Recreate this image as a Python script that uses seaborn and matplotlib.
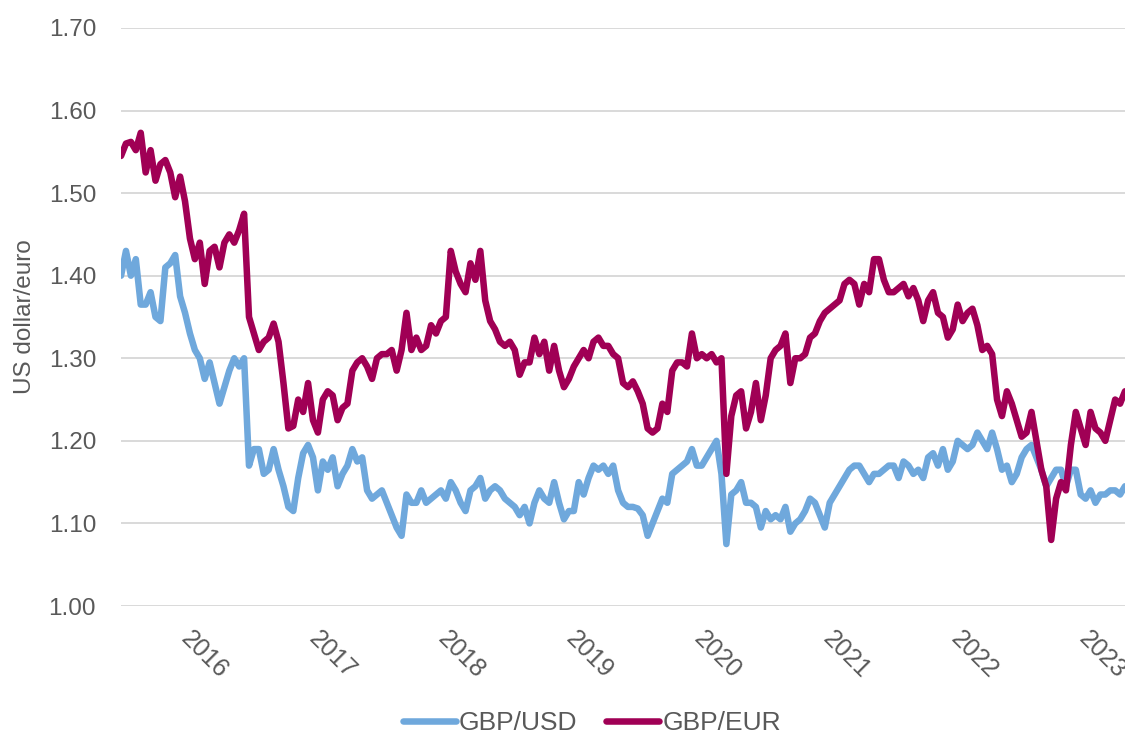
"""
plot.py

Sterling exchange rates, mid-2015 to spring 2023
------------------------------------------------

Two fortnightly series read off the reference chart and drawn with seaborn.
Output: out.png
"""

import matplotlib
matplotlib.use("Agg")

import matplotlib.pyplot as plt
import matplotlib.transforms as mtransforms
import pandas as pd
import seaborn as sns


# =============================================================================
# Data (fortnightly readings, starting 1 July 2015)
# =============================================================================

START_DATE = "2015-07-01"

gbp_usd = [
    1.400, 1.430, 1.400, 1.420, 1.365, 1.365, 1.380, 1.350, 1.345, 1.410,
    1.415, 1.425, 1.375, 1.355, 1.330, 1.310, 1.300, 1.275, 1.295, 1.270,
    1.245, 1.265, 1.285, 1.300, 1.290, 1.300, 1.170, 1.190, 1.190, 1.160,
    1.165, 1.190, 1.165, 1.145, 1.120, 1.115, 1.155, 1.185, 1.195, 1.180,
    1.140, 1.175, 1.165, 1.180, 1.145, 1.160, 1.170, 1.190, 1.175, 1.180,
    1.140, 1.130, 1.135, 1.140, 1.125, 1.110, 1.095, 1.085, 1.135, 1.125,
    1.125, 1.140, 1.125, 1.130, 1.135, 1.140, 1.130, 1.150, 1.140, 1.125,
    1.115, 1.140, 1.145, 1.155, 1.130, 1.140, 1.145, 1.140, 1.130, 1.125,
    1.120, 1.110, 1.120, 1.100, 1.125, 1.140, 1.130, 1.125, 1.150, 1.125,
    1.105, 1.115, 1.115, 1.150, 1.135, 1.155, 1.170, 1.165, 1.170, 1.160,
    1.170, 1.140, 1.125, 1.120, 1.120, 1.118, 1.110, 1.085, 1.100, 1.115,
    1.130, 1.125, 1.160, 1.165, 1.170, 1.175, 1.190, 1.170, 1.170, 1.180,
    1.190, 1.200, 1.160, 1.075, 1.135, 1.140, 1.150, 1.125, 1.125, 1.120,
    1.095, 1.115, 1.105, 1.110, 1.105, 1.120, 1.090, 1.100, 1.105, 1.115,
    1.130, 1.125, 1.110, 1.095, 1.125, 1.135, 1.145, 1.155, 1.165, 1.170,
    1.170, 1.160, 1.150, 1.160, 1.160, 1.165, 1.170, 1.170, 1.155, 1.175,
    1.170, 1.160, 1.165, 1.155, 1.180, 1.185, 1.170, 1.190, 1.165, 1.175,
    1.200, 1.195, 1.190, 1.195, 1.210, 1.200, 1.190, 1.210, 1.190, 1.165,
    1.170, 1.150, 1.160, 1.180, 1.190, 1.195, 1.180, 1.165, 1.145, 1.155,
    1.165, 1.165, 1.145, 1.165, 1.165, 1.135, 1.130, 1.140, 1.125, 1.135,
    1.135, 1.140, 1.140, 1.135, 1.145,
]

gbp_eur = [
    1.545, 1.560, 1.562, 1.552, 1.573, 1.525, 1.552, 1.515, 1.535, 1.540,
    1.525, 1.495, 1.520, 1.490, 1.445, 1.420, 1.440, 1.390, 1.430, 1.435,
    1.410, 1.440, 1.450, 1.440, 1.455, 1.475, 1.350, 1.330, 1.310, 1.320,
    1.325, 1.342, 1.320, 1.270, 1.215, 1.218, 1.250, 1.235, 1.270, 1.225,
    1.210, 1.250, 1.260, 1.255, 1.225, 1.240, 1.245, 1.285, 1.295, 1.300,
    1.290, 1.275, 1.300, 1.305, 1.305, 1.310, 1.285, 1.310, 1.355, 1.310,
    1.325, 1.310, 1.315, 1.340, 1.330, 1.345, 1.350, 1.430, 1.405, 1.390,
    1.380, 1.415, 1.395, 1.430, 1.370, 1.345, 1.335, 1.320, 1.315, 1.320,
    1.310, 1.280, 1.295, 1.295, 1.325, 1.305, 1.320, 1.285, 1.315, 1.285,
    1.265, 1.275, 1.290, 1.300, 1.310, 1.300, 1.320, 1.325, 1.315, 1.315,
    1.305, 1.300, 1.270, 1.265, 1.272, 1.260, 1.245, 1.215, 1.210, 1.215,
    1.245, 1.235, 1.285, 1.295, 1.295, 1.290, 1.330, 1.300, 1.305, 1.300,
    1.305, 1.295, 1.300, 1.160, 1.230, 1.255, 1.260, 1.215, 1.235, 1.270,
    1.225, 1.255, 1.300, 1.310, 1.315, 1.330, 1.270, 1.300, 1.300, 1.305,
    1.325, 1.330, 1.345, 1.355, 1.360, 1.365, 1.370, 1.390, 1.395, 1.390,
    1.365, 1.390, 1.380, 1.420, 1.420, 1.395, 1.380, 1.380, 1.385, 1.390,
    1.375, 1.385, 1.370, 1.345, 1.370, 1.380, 1.355, 1.350, 1.325, 1.335,
    1.365, 1.345, 1.355, 1.360, 1.340, 1.310, 1.315, 1.305, 1.250, 1.230,
    1.260, 1.245, 1.225, 1.205, 1.210, 1.235, 1.200, 1.165, 1.145, 1.080,
    1.130, 1.150, 1.140, 1.195, 1.235, 1.215, 1.195, 1.235, 1.215, 1.210,
    1.200, 1.225, 1.250, 1.245, 1.260,
]

series_names = ["GBP/USD", "GBP/EUR"]
series_colors = ["#6FA8DC", "#A00055"]

year_ticks = ["2016", "2017", "2018", "2019", "2020", "2021", "2022", "2023"]
y_ticks = [1.00, 1.10, 1.20, 1.30, 1.40, 1.50, 1.60, 1.70]
y_label = "US dollar/euro"

TEXT_COLOR = "#595959"
GRID_COLOR = "#D9D9D9"
FONT_SIZE = 17.5
LEGEND_SIZE = 19
LINE_WIDTH = 4.7


# =============================================================================
# Plotting
# =============================================================================

def build_frame() -> pd.DataFrame:
    dates = pd.date_range(START_DATE, periods=len(gbp_usd), freq="14D")
    frames = []
    for name, values in zip(series_names, [gbp_usd, gbp_eur]):
        frames.append(pd.DataFrame({"date": dates, "rate": values, "series": name}))
    return pd.concat(frames, ignore_index=True)


def main():
    sns.set_theme(style="white")
    plt.rcParams["font.family"] = ["Liberation Sans", "DejaVu Sans"]

    df = build_frame()

    fig = plt.figure(figsize=(11.25, 7.35), dpi=100)
    ax = fig.add_axes([0.1076, 0.1755, 0.8924, 0.7865])

    sns.lineplot(
        data=df, x="date", y="rate", hue="series",
        hue_order=series_names, palette=series_colors,
        estimator=None, linewidth=LINE_WIDTH, ax=ax, legend=False,
        solid_capstyle="round", solid_joinstyle="round",
    )

    # axes styling
    ax.set_ylim(1.0, 1.7)
    ax.set_yticks(y_ticks)
    ax.set_yticklabels([f"{v:.2f}" for v in y_ticks])
    ax.set_xlim(df["date"].min(), df["date"].max())
    ax.set_xticks(pd.to_datetime([f"{y}-01-01" for y in year_ticks]))
    ax.set_xticklabels(year_ticks)

    ax.grid(axis="y", color=GRID_COLOR, linewidth=1.4)
    ax.grid(axis="x", visible=False)
    ax.set_axisbelow(True)
    for spine in ax.spines.values():
        spine.set_visible(False)

    ax.tick_params(axis="both", length=0, labelsize=FONT_SIZE, labelcolor=TEXT_COLOR)
    ax.tick_params(axis="y", pad=18)
    ax.tick_params(axis="x", pad=15)
    shift = mtransforms.ScaledTranslation(7 / 100, 0, fig.dpi_scale_trans)
    for lbl in ax.get_xticklabels():
        lbl.set_rotation(-45)
        lbl.set_rotation_mode("anchor")
        lbl.set_ha("left")
        lbl.set_va("top")
        lbl.set_fontsize(18)
        lbl.set_transform(lbl.get_transform() + shift)

    ax.set_xlabel("")
    ax.set_ylabel(y_label, fontsize=FONT_SIZE, color=TEXT_COLOR, labelpad=9)

    # legend below the plot
    handles = [
        plt.Line2D([0], [0], color=c, linewidth=LINE_WIDTH, solid_capstyle="round")
        for c in series_colors
    ]
    fig.legend(
        handles, series_names, loc="center", bbox_to_anchor=(0.526, 0.016),
        ncol=2, frameon=False, fontsize=LEGEND_SIZE, labelcolor=TEXT_COLOR,
        handlelength=2.0, handletextpad=0.12, columnspacing=1.1,
    )

    fig.savefig("out.png", dpi=100)


if __name__ == "__main__":
    main()
